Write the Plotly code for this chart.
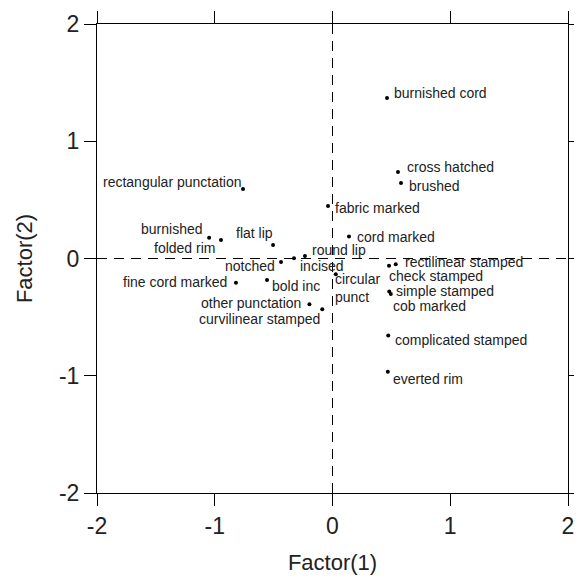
import plotly.graph_objects as go

labels = ["burnished cord", "cross hatched", "brushed", "rectangular punctation",
          "fabric marked", "cord marked", "burnished", "folded rim", "flat lip",
          "round lip", "incised", "notched", "rectilinear stamped", "check stamped",
          "circular<br>punct", "simple stamped", "cob marked", "fine cord marked",
          "bold inc", "other punctation", "curvilinear stamped",
          "complicated stamped", "everted rim"]
factor1 = [0.463, 0.556, 0.582, -0.760, -0.038, 0.140, -1.048, -0.947, -0.505,
           -0.234, -0.327, -0.437, 0.537, 0.480, 0.028, 0.482, 0.495, -0.820,
           -0.556, -0.196, -0.087, 0.473, 0.470]
factor2 = [1.369, 0.738, 0.644, 0.593, 0.448, 0.187, 0.177, 0.158, 0.115,
           0.021, 0.002, -0.030, -0.050, -0.062, -0.134, -0.282, -0.302, -0.207,
           -0.184, -0.390, -0.433, -0.657, -0.966]
tick_values = [-2, -1, 0, 1, 2]
tick_labels = ["-2", "-1", "0", "1", "2"]

# label placement: (xanchor, xshift px, yshift px)
placement = [("left", 5, 5), ("left", 7, 5), ("left", 6, -3), ("right", 1, 7),
             ("left", 5, -2), ("left", 6, 0), ("right", -4, 9), ("right", -4, -8),
             ("right", 2, 12), ("left", 5, 6), ("left", 4, -8), ("right", -4, -4),
             ("left", 7, 2), ("left", -2, -10), ("left", -3, -14), ("left", 5, 1),
             ("left", 0, -12), ("right", -7, 1), ("left", 3, -6), ("right", -6, 1),
             ("right", 0, -10), ("left", 5, -4), ("left", 3, -7)]

font_family = "Liberation Sans, Arial, sans-serif"

fig = go.Figure()
fig.add_trace(go.Scatter(x=factor1, y=factor2, mode="markers",
                         marker=dict(color="black", size=4), hoverinfo="skip",
                         showlegend=False))

for lab, x, y, (xa, xs, ys) in zip(labels, factor1, factor2, placement):
    fig.add_annotation(x=x, y=y, text=lab, showarrow=False, xanchor=xa,
                       yanchor="middle", xshift=xs, yshift=ys,
                       font=dict(size=14, color="#222", family=font_family),
                       align="left")

fig.add_shape(type="line", x0=0, x1=0, y0=-2, y1=2, xref="x", yref="y",
              line=dict(color="black", width=1, dash="10px,7px"))
fig.add_shape(type="line", x0=-2, x1=2, y0=0, y1=0, xref="x", yref="y",
              line=dict(color="black", width=1, dash="10px,7px"))

axis_common = dict(range=[-2, 2], tickvals=tick_values, ticktext=tick_labels,
                   showgrid=False, automargin=False,
                   zeroline=False, showline=True, linecolor="black", linewidth=1,
                   mirror="ticks", ticks="outside", ticklen=12, tickcolor="black",
                   tickfont=dict(size=23, color="#222", family=font_family))

fig.update_layout(
    width=574, height=573,
    margin=dict(l=89, r=14, t=16, b=88),
    paper_bgcolor="white", plot_bgcolor="white",
    xaxis=dict(**axis_common, title=dict(text="Factor(1)", standoff=17,
               font=dict(size=22, color="#222", family=font_family))),
    yaxis=dict(**axis_common, title=dict(text="Factor(2)", standoff=20,
               font=dict(size=22, color="#222", family=font_family))),
)

fig.write_html("out.html")
